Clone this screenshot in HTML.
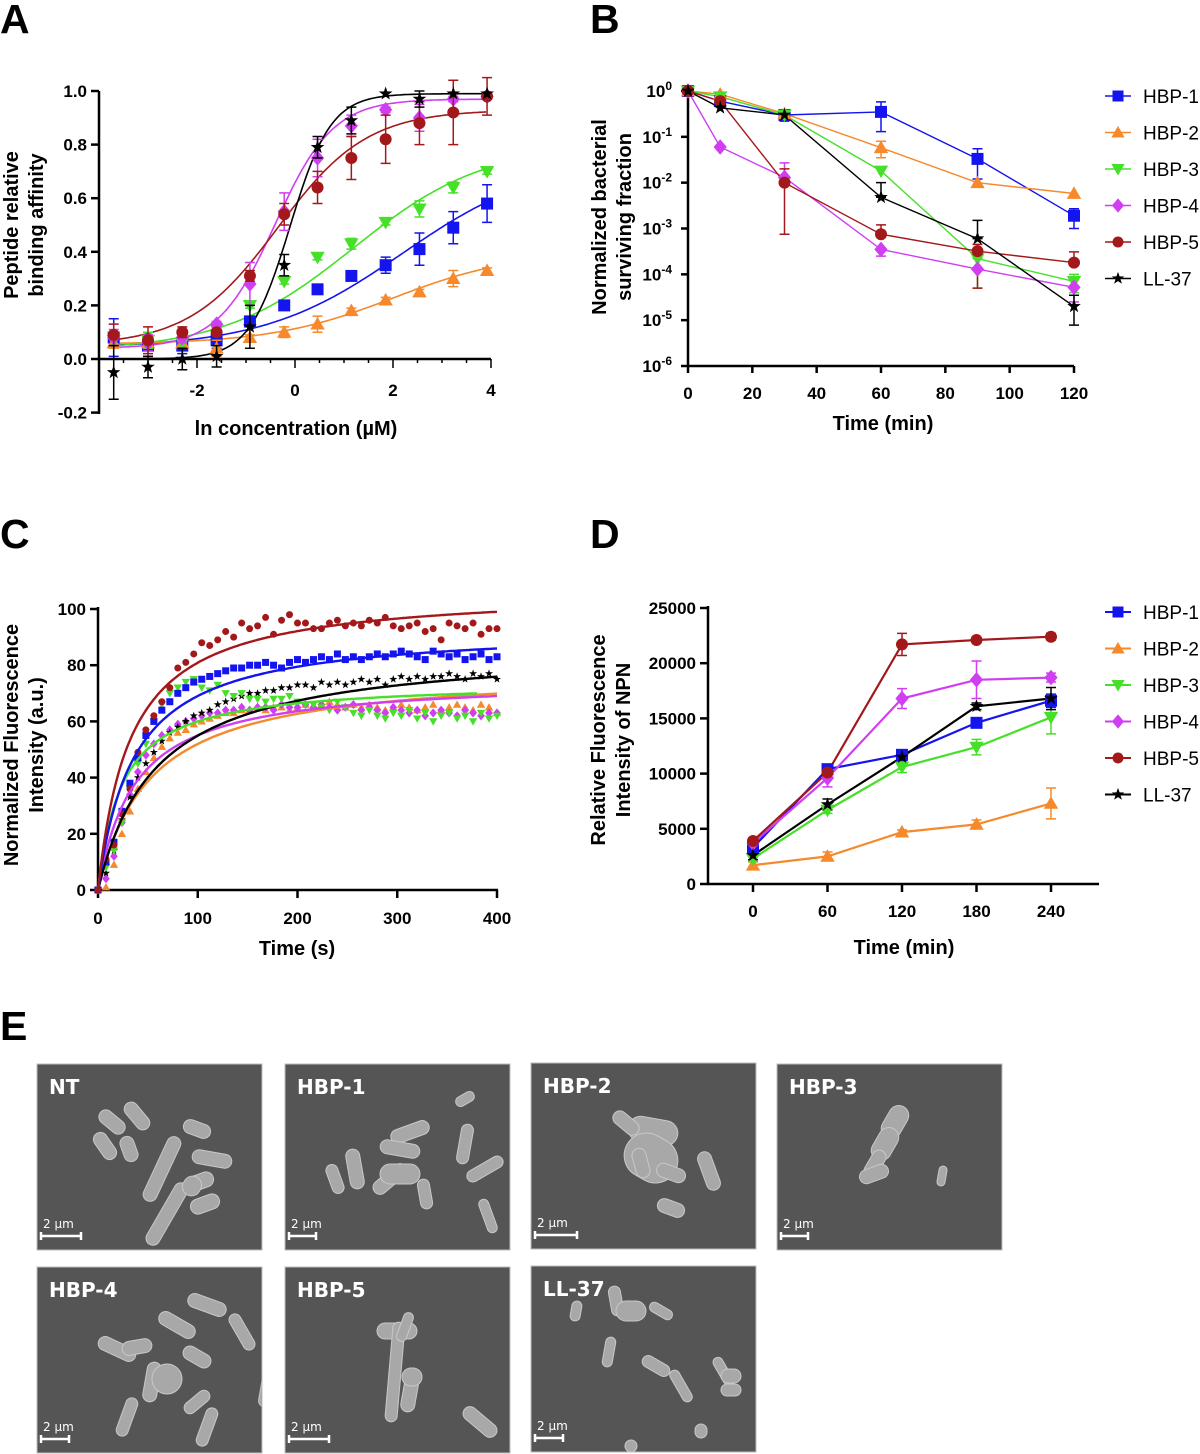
<!DOCTYPE html>
<html><head><meta charset="utf-8">
<style>
html,body{margin:0;padding:0;background:#fff;}
svg{display:block;font-family:"Liberation Sans",Arial,sans-serif;}
.tick{font-weight:bold;font-size:17px;fill:#000;}
.ttl{font-weight:bold;font-size:20px;fill:#000;}
.leg{font-size:19px;fill:#000;}
.pl{font-weight:bold;font-size:41px;fill:#000;}
.em{font-family:"DejaVu Sans",sans-serif;font-weight:bold;font-size:20px;fill:#fff;}
.sb{font-family:"DejaVu Sans",sans-serif;font-size:12px;fill:#fff;}
</style></head>
<body>
<svg id="fig" width="1200" height="1454" viewBox="0 0 1200 1454" xmlns="http://www.w3.org/2000/svg">
<defs><clipPath id="eclip"><rect x="0" y="0" width="225" height="186"/></clipPath></defs>
<text class="pl" x="0" y="33">A</text>
<text class="pl" x="590" y="33">B</text>
<text class="pl" x="0" y="548">C</text>
<text class="pl" x="590" y="548">D</text>
<text class="pl" x="0" y="1040">E</text>
<g id="gA"></g>
<g id="gB"></g>
<g id="gC"></g>
<g id="gD"></g>
<g id="gE"></g>
</svg>
<script>
// ---------- shared ----------
const seriesNames = ["HBP-1","HBP-2","HBP-3","HBP-4","HBP-5","LL-37"];
const seriesColors = ["#1414ee","#f5892b","#46e028","#d03ef2","#a3191b","#000000"];
const seriesShapes = ["square","tri","tridown","diamond","circle","star"];

// ---------- Panel A data ----------
const aX = [-3.7,-3.0,-2.3,-1.6,-0.92,-0.22,0.46,1.15,1.85,2.54,3.23,3.92];
const aY1 = [0.08,0.05,0.05,0.07,0.14,0.20,0.26,0.31,0.35,0.41,0.49,0.58];
const aY2 = [0.06,0.06,0.06,0.04,0.08,0.10,0.13,0.18,0.22,0.25,0.30,0.33];
const aY3 = [0.07,0.07,0.06,0.11,0.20,0.29,0.38,0.43,0.51,0.56,0.64,0.70];
const aY4 = [0.08,0.06,0.08,0.13,0.28,0.55,0.75,0.87,0.93,0.90,0.97,0.98];
const aY5 = [0.09,0.07,0.10,0.10,0.31,0.54,0.64,0.75,0.82,0.88,0.92,0.98];
const aY6 = [-0.05,-0.03,0.0,0.01,0.12,0.35,0.79,0.89,0.99,0.97,0.99,0.99];
const aE1 = [0.07,0.04,0.03,0.03,0.02,0.01,0.01,0.01,0.03,0.06,0.06,0.07];
const aE2 = [0.02,0.02,0.01,0.03,0.01,0.02,0.03,0.01,0.01,0.01,0.03,0.01];
const aE3 = [0.02,0.03,0.02,0.02,0.01,0.01,0.01,0.02,0.01,0.03,0.02,0.01];
const aE4 = [0.03,0.03,0.02,0.01,0.08,0.07,0.07,0.04,0.01,0.05,0.01,0.01];
const aE5 = [0.04,0.05,0.02,0.01,0.02,0.04,0.06,0.08,0.09,0.08,0.12,0.07];
const aE6 = [0.10,0.04,0.04,0.04,0.08,0.04,0.04,0.05,0.0,0.03,0.0,0.0];
// sigmoid fit parameters [bottom, top, x0, slope]
const aFit = [[0.04,0.75,2.2,0.7],[0.055,0.40,2.0,0.8],[0.03,0.80,1.2,0.75],[0.04,0.97,-0.4,1.7],[0.05,0.93,-0.35,1.1],[0.0,0.99,-0.1,2.4]];
const aYTicks = [-0.2,0.0,0.2,0.4,0.6,0.8,1.0];
const aYTickLabels = ["-0.2","0.0","0.2","0.4","0.6","0.8","1.0"];
const aXTicks = [-2,0,2,4];
const aXTickLabels = ["-2","0","2","4"];

// ---------- Panel B data ----------
const bT = [0,10,30,60,90,120];
const bY1 = [1,0.6,0.3,0.35,0.033,0.0019];
const bY2 = [1,0.85,0.32,0.058,0.01,0.0058];
const bY3 = [1,0.75,0.3,0.018,0.00022,0.00007];
const bY4 = [1,0.06,0.013,0.00035,0.00013,0.000052];
const bY5 = [1,0.6,0.01,0.00075,0.00032,0.00018];
const bY6 = [1,0.43,0.3,0.0048,0.0006,0.00002];
const bHi1 = [null,null,0.33,0.58,0.055,0.0027];
const bLo1 = [null,null,0.22,0.13,0.012,0.001];
const bHi2 = [null,null,null,0.08,null,null];
const bLo2 = [null,null,null,0.035,null,null];
const bHi3 = [null,null,null,null,null,0.0001];
const bLo3 = [null,null,null,null,0.00005,0.00004];
const bHi4 = [null,null,0.027,null,null,null];
const bLo4 = [null,null,null,0.00025,null,0.000025];
const bHi5 = [null,null,0.02,0.0012,0.00045,0.00031];
const bLo5 = [null,null,0.00075,null,0.00005,null];
const bHi6 = [null,null,null,0.01,0.0015,0.000035];
const bLo6 = [null,null,null,null,null,0.0000078];
const bXTicks = [0,20,40,60,80,100,120];
const bYExp = [0,-1,-2,-3,-4,-5,-6];

// ---------- Panel C data ----------
const cT = [0,8,16,24,32,40,48,56,64,72,80,88,96,104,112,120,128,136,144,152,160,168,176,184,192,200,208,216,224,232,240,248,256,264,272,280,288,296,304,312,320,328,336,344,352,360,368,376,384,392,400];
const cY1 = [0,10,17,28,38,47,55,60,64,67,70,72,74,75,76,77,78,79,79,80,80,81,80,79,81,82,81,82,83,82,84,82,83,82,83,84,83,84,85,84,83,82,85,84,83,84,82,83,84,82,83];
const cY2 = [0,1,9,20,28,36,42,47,51,54,56,57,59,60,61,62,63,63,64,64,65,64,65,65,64,65,66,65,66,67,66,65,66,65,66,65,64,65,66,65,64,65,66,64,65,66,65,64,66,65,63];
const cY3 = [0,8,14,24,36,45,52,60,66,70,72,74,75,72,71,73,70,69,70,68,68,67,68,68,69,67,66,66,65,64,67,65,63,62,64,62,61,63,62,64,61,63,60,62,63,61,62,60,63,61,62];
const cY4 = [0,4,12,24,34,42,48,52,55,57,59,60,61,62,63,63,64,64,65,64,65,65,64,66,65,65,66,65,66,65,64,65,66,64,65,64,63,65,64,63,64,62,63,64,63,62,64,63,62,63,63];
const cY5 = [0,11,16,27,36,49,57,62,67,72,79,81,84,88,87,89,92,90,95,93,94,97,91,96,98,95,95,93,93,95,96,94,95,94,96,95,97,94,93,94,95,92,93,89,95,94,93,95,91,93,93];
const cY6 = [0,6,14,25,33,40,45,49,53,56,58,60,62,63,64,66,67,68,69,70,70,71,71,72,72,73,73,72,74,73,74,73,74,75,74,75,73,75,76,75,76,75,76,76,77,76,75,77,76,77,75];
// hyperbolic fit params [Ymax, K, tEnd]
const cFit = [[93.6,35.6,400],[79,52,400],[74.4,24,380],[75.4,37,400],[107,32.3,400],[87,58.4,400]];
const cXTicks = [0,100,200,300,400];
const cYTicks = [0,20,40,60,80,100];

// ---------- Panel D data ----------
const dT = [0,60,120,180,240];
const dY1 = [3300,10400,11700,14600,16600];
const dY2 = [1700,2500,4700,5400,7300];
const dY3 = [2300,6700,10600,12400,15100];
const dY4 = [3700,9600,16800,18500,18700];
const dY5 = [3900,10100,21700,22100,22400];
const dY6 = [2600,7200,11500,16100,16800];
const dE1 = [500,300,400,300,600];
const dE2 = [300,400,200,400,1400];
const dE3 = [300,300,500,700,1500];
const dE4 = [300,800,900,1700,400];
const dE5 = [200,300,1000,200,300];
const dE6 = [400,500,300,300,1000];
const dXTicks = [0,60,120,180,240];
const dYTicks = [0,5000,10000,15000,20000,25000];

// ---------- helpers ----------
const NS = "http://www.w3.org/2000/svg";
function mk(parent, tag, attrs, txt){
  const e = document.createElementNS(NS, tag);
  for (const k in attrs) e.setAttribute(k, attrs[k]);
  if (txt !== undefined) e.textContent = txt;
  parent.appendChild(e);
  return e;
}
function marker(g, shape, x, y, color, s){
  let el;
  if (shape==="square") el = mk(g,"rect",{x:x-s/2,y:y-s/2,width:s,height:s,fill:color});
  else if (shape==="circle") el = mk(g,"circle",{cx:x,cy:y,r:s/2,fill:color});
  else if (shape==="tri") el = mk(g,"polygon",{points:`${x},${y-s*0.6} ${x-s*0.6},${y+s*0.45} ${x+s*0.6},${y+s*0.45}`,fill:color});
  else if (shape==="tridown") el = mk(g,"polygon",{points:`${x},${y+s*0.6} ${x-s*0.6},${y-s*0.45} ${x+s*0.6},${y-s*0.45}`,fill:color});
  else if (shape==="diamond") el = mk(g,"polygon",{points:`${x},${y-s*0.65} ${x+s*0.55},${y} ${x},${y+s*0.65} ${x-s*0.55},${y}`,fill:color});
  else {
    let p=[]; for(let i=0;i<10;i++){const r=i%2?s*0.24:s*0.6;const a=-Math.PI/2+i*Math.PI/5;p.push((x+r*Math.cos(a)).toFixed(1)+","+(y+r*Math.sin(a)).toFixed(1));}
    el = mk(g,"polygon",{points:p.join(" "),fill:color});
  }
  
  
  return el;
}
function errbar(g, x, y1, y2, color, w){
  const e = mk(g,"path",{d:`M${x},${y1}V${y2}M${x-w},${y1}H${x+w}M${x-w},${y2}H${x+w}`,stroke:color,"stroke-width":1.5,fill:"none"});
  
  
}
function line(g, x1,y1,x2,y2,w){
  return mk(g,"line",{x1,y1,x2,y2,stroke:"#000","stroke-width":w||2.5});
}
function ylabel(g, lines, cx, cy, gap){
  lines.forEach((t,i)=>{
    const x = cx + i*gap;
    const e = mk(g,"text",{class:"ttl",x:x,y:cy,"text-anchor":"middle",transform:`rotate(-90 ${x} ${cy})`},t);
    
    
  });
}
function legend(g, x, y0, dy, lw){
  seriesNames.forEach((n,i)=>{
    const y = y0 + i*dy;
    const gi = mk(g,"g",{});
    
    
    mk(gi,"line",{x1:x,y1:y,x2:x+26,y2:y,stroke:seriesColors[i],"stroke-width":lw});
    marker(gi, seriesShapes[i], x+13, y, seriesColors[i], 11);
    mk(gi,"text",{class:"leg",x:x+38,y:y+7},n);
  });
}

// ---------- Panel A ----------
(function(){
  const g = document.getElementById("gA");
  const X = v => 295 + v*49;
  const Y = v => 359 - v*268;
  const ys=[aY1,aY2,aY3,aY4,aY5,aY6], es=[aE1,aE2,aE3,aE4,aE5,aE6];
  line(g,99,91,99,414); line(g,99,Y(0),491,Y(0));
  aYTicks.forEach((t,i)=>{ line(g,91,Y(t),99,Y(t));
    const e=mk(g,"text",{class:"tick",x:87,y:Y(t)+6,"text-anchor":"end"},aYTickLabels[i]);
      });
  for(let v=-4;v<=4;v+=0.5){ if(X(v)>=99) line(g,X(v),Y(0),X(v),Y(0)+(Number.isInteger(v/2)?9:4),1.5); }
  aXTicks.forEach((t,i)=>{
    const e=mk(g,"text",{class:"tick",x:X(t),y:396,"text-anchor":"middle"},aXTickLabels[i]);
      });
  const xt=mk(g,"text",{class:"ttl",x:296,y:435,"text-anchor":"middle"},"ln concentration (µM)");
   
  ylabel(g,["Peptide relative","binding affinity"],18,225,25);
  ys.forEach((s,k)=>{
    const p=aFit[k]; let d="";
    for(let v=-3.7; v<=3.92; v+=0.05){ const y=p[0]+(p[1]-p[0])/(1+Math.exp(-p[3]*(v-p[2]))); d+=(d?"L":"M")+X(v).toFixed(1)+","+Y(y).toFixed(1); }
    const c=mk(g,"path",{d,stroke:seriesColors[k],"stroke-width":1.6,fill:"none"});
     
  });
  ys.forEach((s,k)=>{
    s.forEach((v,i)=>{
      if(es[k][i]>0) errbar(g,X(aX[i]),Y(v-es[k][i]),Y(v+es[k][i]),seriesColors[k],5);
      marker(g,seriesShapes[k],X(aX[i]),Y(v),seriesColors[k],12);
    });
  });
})();

// ---------- Panel B ----------
(function(){
  const g = document.getElementById("gB");
  const X = v => 688 + v*(1074-688)/120;
  const Y = v => 91 - Math.log10(v)*(366-91)/6;
  const ys=[bY1,bY2,bY3,bY4,bY5,bY6], his=[bHi1,bHi2,bHi3,bHi4,bHi5,bHi6], los=[bLo1,bLo2,bLo3,bLo4,bLo5,bLo6];
  line(g,688,89,688,366); line(g,687,366,1074,366);
  bYExp.forEach(e=>{ const y=91-e*(366-91)/6; line(g,681,y,688,y);
    const t=mk(g,"text",{class:"tick",x:672,y:y+6,"text-anchor":"end"});
     
    mk(t,"tspan",{},"10"); mk(t,"tspan",{dy:-7,"font-size":"12"},String(e)); });
  bXTicks.forEach(t=>{ line(g,X(t),366,X(t),373);
    const e=mk(g,"text",{class:"tick",x:X(t),y:399,"text-anchor":"middle"},String(t));
      });
  const xt=mk(g,"text",{class:"ttl",x:883,y:430,"text-anchor":"middle"},"Time (min)");
   
  ylabel(g,["Normalized bacterial","surviving fraction"],606,217,25);
  ys.forEach((s,k)=>{
    const d=s.map((v,i)=>(i?"L":"M")+X(bT[i]).toFixed(1)+","+Y(v).toFixed(1)).join("");
    const p=mk(g,"path",{d,stroke:seriesColors[k],"stroke-width":1.4,fill:"none"});
     
    s.forEach((v,i)=>{
      const hi=his[k][i], lo=los[k][i];
      if(hi!==null||lo!==null) errbar(g,X(bT[i]),Y(lo!==null?lo:v),Y(hi!==null?hi:v),seriesColors[k],5);
    });
  });
  ys.forEach((s,k)=> s.forEach((v,i)=> marker(g,seriesShapes[k],X(bT[i]),Y(v),seriesColors[k],12)));
  legend(g,1105,96,36.5,1.4);
})();

// ---------- Panel C ----------
(function(){
  const g = document.getElementById("gC");
  const X = v => 98 + v*(497-98)/400;
  const Y = v => 890 - v*(890-609)/100;
  const ys=[cY1,cY2,cY3,cY4,cY5,cY6];
  line(g,98,607,98,891); line(g,97,890,498,890);
  cYTicks.forEach(t=>{ line(g,90,Y(t),98,Y(t));
    const e=mk(g,"text",{class:"tick",x:86,y:Y(t)+6,"text-anchor":"end"},String(t));
      });
  cXTicks.forEach(t=>{ line(g,X(t),890,X(t),898);
    const e=mk(g,"text",{class:"tick",x:X(t),y:924,"text-anchor":"middle"},String(t));
      });
  const xt=mk(g,"text",{class:"ttl",x:297,y:955,"text-anchor":"middle"},"Time (s)");
   
  ylabel(g,["Normalized Fluorescence","Intensity (a.u.)"],18,745,25);
  const order=[1,3,5,2,0,4];
  order.forEach(k=> ys[k].forEach((v,i)=> marker(g,seriesShapes[k],X(cT[i]),Y(v),seriesColors[k],7)));
  order.forEach(k=>{
    const p=cFit[k]; let d="";
    for(let t=0;t<=p[2];t+=2){ const y=p[0]*t/(p[1]+t); d+=(d?"L":"M")+X(t).toFixed(1)+","+Y(y).toFixed(1); }
    const c=mk(g,"path",{d,stroke:seriesColors[k],"stroke-width":2.4,fill:"none"});
     
  });
})();

// ---------- Panel D ----------
(function(){
  const g = document.getElementById("gD");
  const X = v => 753 + v*(1051-753)/240;
  const Y = v => 884 - v*(884-608)/25000;
  const ys=[dY1,dY2,dY3,dY4,dY5,dY6], es=[dE1,dE2,dE3,dE4,dE5,dE6];
  line(g,708,606,708,885); line(g,707,884,1099,884);
  dYTicks.forEach(t=>{ line(g,700,Y(t),708,Y(t));
    const e=mk(g,"text",{class:"tick",x:696,y:Y(t)+6,"text-anchor":"end"},String(t));
      });
  dXTicks.forEach(t=>{ line(g,X(t),884,X(t),892);
    const e=mk(g,"text",{class:"tick",x:X(t),y:917,"text-anchor":"middle"},String(t));
      });
  const xt=mk(g,"text",{class:"ttl",x:904,y:954,"text-anchor":"middle"},"Time (min)");
   
  ylabel(g,["Relative Fluorescence","Intensity of NPN"],605,740,25);
  ys.forEach((s,k)=>{
    s.forEach((v,i)=> errbar(g,X(dT[i]),Y(v-es[k][i]),Y(v+es[k][i]),seriesColors[k],5));
    const d=s.map((v,i)=>(i?"L":"M")+X(dT[i]).toFixed(1)+","+Y(v).toFixed(1)).join("");
    const p=mk(g,"path",{d,stroke:seriesColors[k],"stroke-width":2.2,fill:"none"});
     
  });
  ys.forEach((s,k)=> s.forEach((v,i)=> marker(g,seriesShapes[k],X(dT[i]),Y(v),seriesColors[k],12)));
  legend(g,1105,612,36.5,2);
})();

// ---------- Panel E ----------
const ePanels = [
  {name:"NT",x:37,y:1064,sb:40,rods:[[75,58,30,14,40],[100,52,32,14,50],[68,82,30,14,55],[92,85,26,14,70],[125,105,70,14,-65],[130,150,70,14,-60],[160,65,28,14,20],[175,95,40,14,10],[162,118,30,15,-20],[168,140,30,15,-20],[155,122,20,18,-60]]},
  {name:"HBP-1",x:285,y:1064,sb:27,rods:[[125,68,40,14,-20],[70,105,40,14,80],[115,85,40,14,10],[105,115,40,14,-40],[140,130,30,12,80],[180,80,40,12,100],[200,105,40,12,-30],[50,115,30,12,70],[203,152,35,10,70],[180,35,20,10,-30],[115,110,40,20,0]]},
  {name:"HBP-2",x:531,y:1063,sb:42,rods:[[122,68,50,25,10],[95,60,30,14,40],[120,95,55,45,30],[140,110,30,14,20],[110,100,30,14,75],[178,108,40,14,70],[140,145,28,14,20]]},
  {name:"HBP-3",x:777,y:1064,sb:27,rods:[[118,58,35,20,-60],[108,80,35,20,-60],[98,100,30,14,-60],[97,110,30,14,-20],[165,112,20,8,-80]]},
  {name:"HBP-4",x:37,y:1267,sb:28,rods:[[140,58,40,14,30],[170,38,40,14,20],[205,65,40,12,60],[80,82,40,14,25],[100,80,30,14,-10],[160,90,30,14,30],[115,115,40,14,-80],[230,120,40,12,-80],[160,135,30,12,-40],[170,160,40,12,-70],[90,150,40,12,-70],[130,112,30,30,0]]},
  {name:"HBP-5",x:285,y:1267,sb:40,rods:[[112,64,40,16,0],[110,105,100,12,-85],[125,125,40,14,-80],[127,110,20,18,0],[195,155,40,14,40],[120,60,30,10,-70]]},
  {name:"LL-37",x:531,y:1266,sb:28,rods:[[45,45,20,10,-80],[130,45,25,10,30],[78,86,30,10,-80],[125,100,30,12,30],[150,120,35,10,60],[192,105,30,10,60],[200,110,20,14,0],[200,124,20,12,0],[170,165,12,14,0],[100,180,12,12,0],[85,35,30,12,80],[100,45,30,20,0]]}
];
(function(){
  const g = document.getElementById("gE");
  ePanels.forEach(p=>{
    const gp = mk(g,"g",{transform:`translate(${p.x},${p.y})`});
    
    
    mk(gp,"rect",{x:0,y:0,width:225,height:186,fill:"#555555",stroke:"#bdbdbd","stroke-width":1});
    const gc = mk(gp,"g",{"clip-path":"url(#eclip)"});
    p.rods.forEach(r=>{
      const rod = mk(gc,"rect",{x:r[0]-r[2]/2,y:r[1]-r[3]/2,width:r[2],height:r[3],rx:Math.min(r[2],r[3])/2,fill:"#a8a8a8",stroke:"#c8c8c8","stroke-width":1,transform:`rotate(${r[4]} ${r[0]} ${r[1]})`});
      
      
    });
    const t = mk(gp,"text",{class:"em",x:12,y:30},p.name);
    
    
    const s = mk(gp,"text",{class:"sb",x:6,y:164},"2 µm");
    
    
    const b = mk(gp,"path",{d:`M4,172H${4+p.sb}M4,168V176M${4+p.sb},168V176`,stroke:"#fff","stroke-width":2.5,fill:"none"});
    
    
  });
})();
</script>
</body></html>
